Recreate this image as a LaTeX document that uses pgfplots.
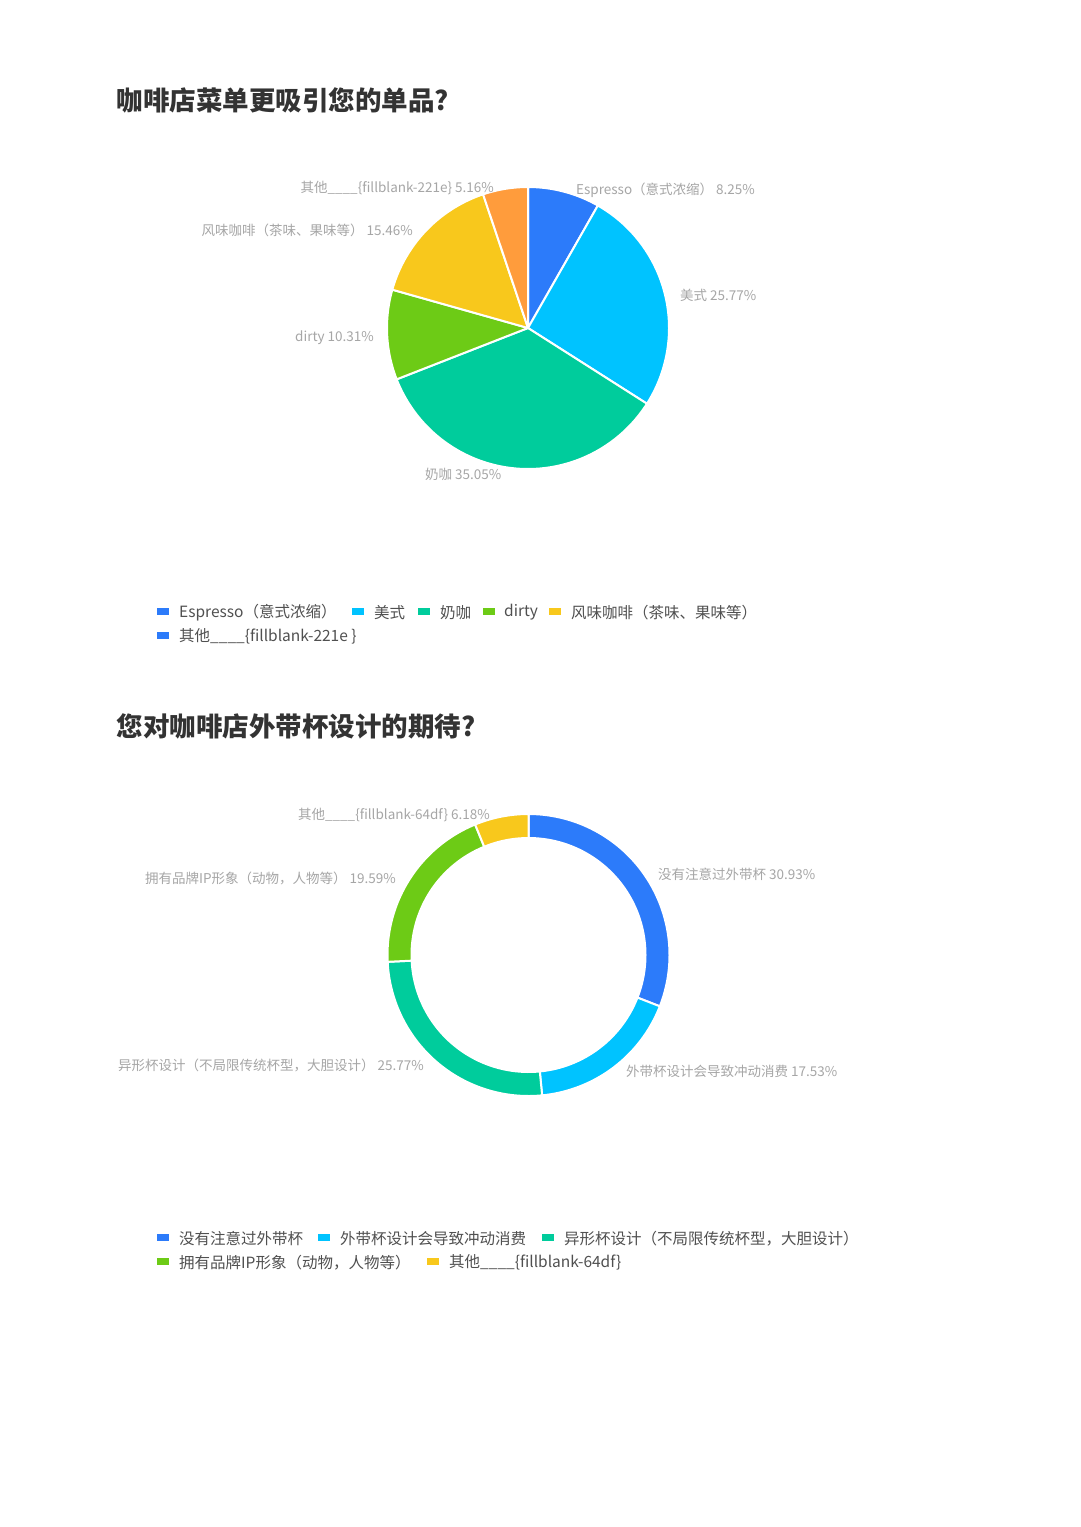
\documentclass[border=0pt]{standalone}
\usepackage{fontspec}
\setmainfont{Noto Sans CJK SC}
\usepackage{pgfplots}
\pgfplotsset{compat=1.18}

\definecolor{cblue}{HTML}{2C7BFA}
\definecolor{ccyan}{HTML}{00C3FF}
\definecolor{cgreen}{HTML}{00CC9C}
\definecolor{clime}{HTML}{6DCB16}
\definecolor{cyellow}{HTML}{F8C81C}
\definecolor{corange}{HTML}{FF9C3C}
\definecolor{lblgray}{HTML}{A6A6A6}
\definecolor{legtext}{HTML}{505050}
\definecolor{titletext}{HTML}{333333}

% slice: {cx}{cy}{r}{start %}{value %}{colour}; clockwise from 12 o'clock (y axis reversed)
\newcommand\slice[6]{%
  \addplot[draw=white, line width=2pt, fill=#6, line join=round,
    domain={-90+3.6*(#4)}:{-90+3.6*(#4+#5)}, samples=90]
    ({#1+#3*cos(x)},{#2+#3*sin(x)}) -- (axis cs:#1,#2) -- cycle;}

\newcommand\lbl{\fontsize{13.5}{16}\selectfont}
\newcommand\leg{\fontsize{15.5}{18}\selectfont}
\newcommand\ttl{\fontsize{26.5}{30}\selectfont\bfseries}
% legend key: x, y, colour
\newcommand\key[3]{\fill[#3] (axis cs:#1,#2-3.5) rectangle (axis cs:#1+12,#2+3.5);}

\begin{document}
\begin{tikzpicture}
\fill[white] (0,0) rectangle (1080pt,1527pt);
\begin{axis}[at={(0,0)}, anchor=south west,
  x=1pt, y=1pt, xmin=0, xmax=1080, ymin=0, ymax=1527,
  y dir=reverse, hide axis, clip=false]

% ---- chart 1: pie ----
\slice{528}{328}{141}{0}{8.25}{cblue}
\slice{528}{328}{141}{8.25}{25.77}{ccyan}
\slice{528}{328}{141}{34.02}{35.05}{cgreen}
\slice{528}{328}{141}{69.07}{10.31}{clime}
\slice{528}{328}{141}{79.38}{15.46}{cyellow}
\slice{528}{328}{141}{94.84}{5.16}{corange}

% ---- chart 2: ring ----
\slice{528.5}{955}{141}{0}{30.93}{cblue}
\slice{528.5}{955}{141}{30.93}{17.53}{ccyan}
\slice{528.5}{955}{141}{48.46}{25.77}{cgreen}
\slice{528.5}{955}{141}{74.23}{19.59}{clime}
\slice{528.5}{955}{141}{93.82}{6.18}{cyellow}
\addplot[fill=white, draw=none, domain=0:360, samples=180]
  ({528.5+118*cos(x)},{955+118*sin(x)}) -- cycle;

% titles
\node[anchor=west, text=titletext, font=\ttl] at (axis cs:113,100) {咖啡店菜单更吸引您的单品?};
\node[anchor=west, text=titletext, font=\ttl] at (axis cs:113,726) {您对咖啡店外带杯设计的期待?};

% labels chart 1
\begin{scope}[every node/.style={text=lblgray, font=\lbl, inner sep=0pt}]
\node[anchor=east] at (axis cs:494,187.5) {其他\_\_\_\_\{fillblank-221e\} 5.16\%};
\node[anchor=west] at (axis cs:576,190.5) {Espresso（意式浓缩） 8.25\%};
\node[anchor=east] at (axis cs:413,230.5) {风味咖啡（茶味、果味等） 15.46\%};
\node[anchor=west] at (axis cs:680,295.5) {美式 25.77\%};
\node[anchor=east] at (axis cs:374,337.5) {dirty 10.31\%};
\node[anchor=west] at (axis cs:425,474.5) {奶咖 35.05\%};
% labels chart 2
\node[anchor=east] at (axis cs:490,814.5) {其他\_\_\_\_\{fillblank-64df\} 6.18\%};
\node[anchor=west] at (axis cs:658,874.5) {没有注意过外带杯 30.93\%};
\node[anchor=east] at (axis cs:396,878.5) {拥有品牌IP形象（动物，人物等） 19.59\%};
\node[anchor=east] at (axis cs:424,1065.5) {异形杯设计（不局限传统杯型，大胆设计） 25.77\%};
\node[anchor=west] at (axis cs:626,1071.5) {外带杯设计会导致冲动消费 17.53\%};
\end{scope}

% legends
\key{157}{611}{cblue}\key{352}{611}{ccyan}\key{418}{611}{cgreen}\key{483}{611}{clime}\key{549}{611}{cyellow}
\key{157}{635}{cblue}
\key{157}{1237}{cblue}\key{318}{1237}{ccyan}\key{542}{1237}{cgreen}
\key{157}{1261}{clime}\key{427}{1261}{cyellow}
\begin{scope}[every node/.style={text=legtext, font=\leg, inner sep=0pt, anchor=west}]
\node at (axis cs:179,612.5) {Espresso（意式浓缩）};
\node at (axis cs:374,612.5) {美式};
\node at (axis cs:440,612.5) {奶咖};
\node at (axis cs:504,612.5) {dirty};
\node at (axis cs:571,612.5) {风味咖啡（茶味、果味等）};
\node at (axis cs:179,636.5) {其他\_\_\_\_\{fillblank-221e \}};
\node at (axis cs:179,1238.5) {没有注意过外带杯};
\node at (axis cs:340,1238.5) {外带杯设计会导致冲动消费};
\node at (axis cs:564,1238.5) {异形杯设计（不局限传统杯型，大胆设计）};
\node at (axis cs:179,1262.5) {拥有品牌IP形象（动物，人物等）};
\node at (axis cs:449,1262.5) {其他\_\_\_\_\{fillblank-64df\}};
\end{scope}
\end{axis}
\end{tikzpicture}
\end{document}
